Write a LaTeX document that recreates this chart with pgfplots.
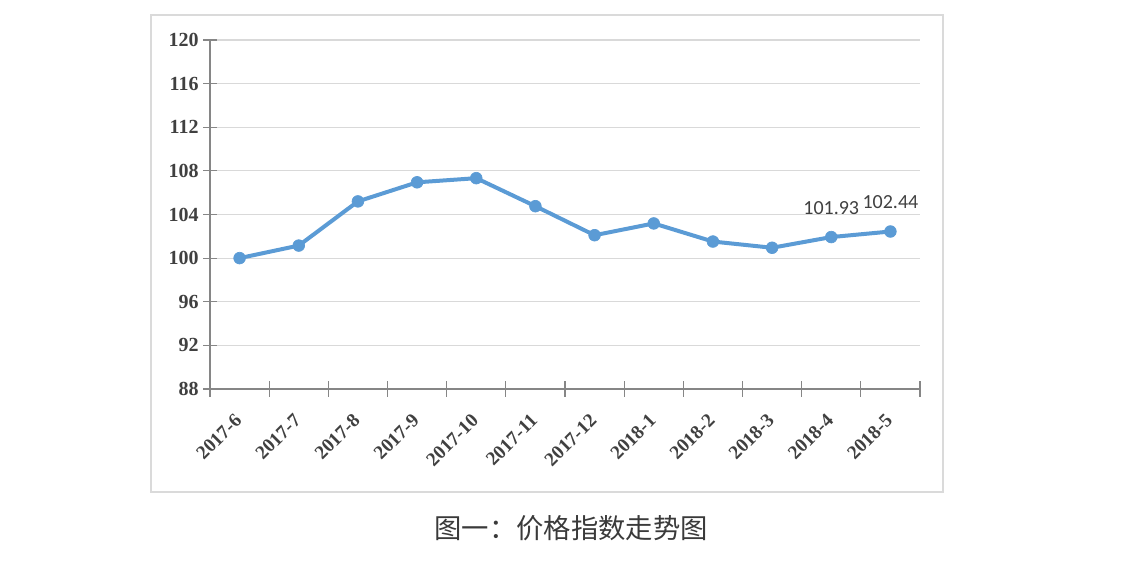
\documentclass[border=0pt]{standalone}
\usepackage{fontspec}
\setmainfont{Liberation Serif}
\newfontfamily\cjk{Noto Sans CJK SC}
\newfontfamily\calib{Carlito}
\usepackage{pgfplots}
\pgfplotsset{compat=1.18}

\definecolor{lineblue}{HTML}{5B9BD5}
\definecolor{gridgray}{HTML}{D9D9D9}
\definecolor{axisgray}{HTML}{868686}
\definecolor{framegray}{HTML}{DADADA}
\definecolor{textgray}{HTML}{404040}
\definecolor{captiongray}{HTML}{3A3A3A}

\begin{document}
\begin{tikzpicture}[x=0.75pt,y=0.75pt]
\useasboundingbox (0,0) rectangle (1121,566);
% outer chart frame
\draw[draw=framegray, line width=1.1pt] (151,74) rectangle (943,551);

\begin{axis}[
    at={(157.5pt,132.75pt)}, anchor=south west,
    width=532.5pt, height=261.75pt, scale only axis,
    xmin=-0.5, xmax=11.5,
    ymin=88, ymax=120,
    axis x line*=bottom, axis y line*=left,
    axis line style={draw=axisgray, line width=1pt},
    ytick={88,92,...,120},
    xtick={0,...,11},
    xticklabels={2017-6,2017-7,2017-8,2017-9,2017-10,2017-11,2017-12,2018-1,2018-2,2018-3,2018-4,2018-5},
    minor xtick={-0.5,0.5,...,11.5},
    major x tick style={draw=none},
    tick style={draw=axisgray, line width=0.9pt},
    tick align=center,
    major tick length=10pt,
    minor tick length=12pt,
    ymajorgrids,
    grid style={draw=gridgray, line width=0.8pt},
    /pgf/number format/assume math mode=true,
    yticklabel style={font=\bfseries\fontsize{15}{15}\selectfont, text=textgray, anchor=east},
    xticklabel style={font=\bfseries\fontsize{14.5}{14.5}\selectfont, text=textgray,
        xshift=-4.5pt, yshift=-8pt, rotate=45, anchor=north east},
    clip=false,
]
\addplot[color=lineblue, line width=3pt, mark=*,
    mark size=4.4pt, mark options={fill=lineblue, draw=lineblue, line width=0.5pt}]
    coordinates {
    (0,100.00) (1,101.15) (2,105.20) (3,106.95) (4,107.33) (5,104.76)
    (6,102.10) (7,103.18) (8,101.52) (9,100.95) (10,101.93) (11,102.44)
    };
\addplot[draw=none, mark=none, point meta=explicit symbolic,
    nodes near coords,
    nodes near coords style={font=\calib\fontsize{15}{15}\selectfont,
        text=textgray, anchor=south, yshift=13.5pt}]
    coordinates {(10,101.93)[101.93] (11,102.44)[102.44]};
\end{axis}

\node[font=\cjk\fontsize{20.5}{20.5}\selectfont, text=captiongray] at (571,38)
    {图一：价格指数走势图};
\end{tikzpicture}
\end{document}
